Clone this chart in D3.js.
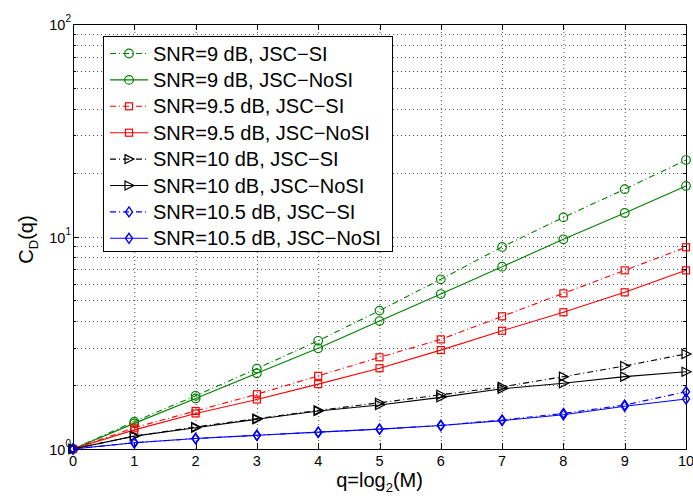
<!DOCTYPE html>
<html><head><meta charset="utf-8">
<script src="https://cdn.jsdelivr.net/npm/d3@7"></script>
<style>body{margin:0;background:#fff}svg{display:block}text{font-family:"Liberation Sans",Arial,sans-serif}</style>
</head><body><svg id="c" width="693" height="496"></svg>
<script>
const q = [0,1,2,3,4,5,6,7,8,9,10];
const g_SI   = [1,1.345,1.78,2.39,3.23,4.48,6.29,8.93,12.3,16.7,22.9];
const g_NoSI = [1,1.32,1.73,2.27,2.98,4.0,5.36,7.21,9.7,12.9,17.3];
const r_SI   = [1,1.26,1.51,1.81,2.21,2.70,3.28,4.21,5.40,6.93,8.9];
const r_NoSI = [1,1.23,1.47,1.71,2.02,2.40,2.92,3.60,4.40,5.46,6.93];
const k_SI   = [1,1.15,1.27,1.39,1.52,1.65,1.80,1.96,2.19,2.46,2.80];
const k_NoSI = [1,1.15,1.26,1.38,1.51,1.61,1.75,1.92,2.04,2.19,2.31];
const b_SI   = [1,1.07,1.12,1.16,1.20,1.24,1.29,1.37,1.47,1.61,1.86];
const b_NoSI = [1,1.07,1.12,1.16,1.20,1.24,1.29,1.36,1.45,1.59,1.72];
const labels = ["SNR=9 dB, JSC\u2212SI","SNR=9 dB, JSC\u2212NoSI","SNR=9.5 dB, JSC\u2212SI","SNR=9.5 dB, JSC\u2212NoSI",
  "SNR=10 dB, JSC\u2212SI","SNR=10 dB, JSC\u2212NoSI","SNR=10.5 dB, JSC\u2212SI","SNR=10.5 dB, JSC\u2212NoSI"];
const xTicks = [0,1,2,3,4,5,6,7,8,9,10];
const yMajor = [1,10,100];

const series = [
  {v:g_SI,c:"#008000",dash:"6,3,1,3",m:"circle"},
  {v:g_NoSI,c:"#008000",dash:null,m:"circle"},
  {v:r_SI,c:"#ff0000",dash:"6,3,1,3",m:"square"},
  {v:r_NoSI,c:"#ff0000",dash:null,m:"square"},
  {v:k_SI,c:"#000000",dash:"6,3,1,3",m:"tri"},
  {v:k_NoSI,c:"#000000",dash:null,m:"tri"},
  {v:b_SI,c:"#0000ff",dash:"6,3,1,3",m:"diamond"},
  {v:b_NoSI,c:"#0000ff",dash:null,m:"diamond"}
];
series.forEach((s,i)=>s.label=labels[i]);

const W=693,H=496,L=73,R=686,T=24,B=449;
const svg=d3.select("#c");
const x=d3.scaleLinear().domain([0,10]).range([L,R]);
const y=d3.scaleLog().domain([1,100]).range([B,T]);

const minors=[];
[1,10].forEach(d=>{for(let k=2;k<=9;k++)minors.push(d*k);});

// grid
const grid=svg.append("g").attr("stroke","#555").attr("stroke-width",1).attr("stroke-dasharray","1,3");
xTicks.slice(1,-1).forEach(t=>grid.append("line").attr("x1",x(t)+0.5).attr("x2",x(t)+0.5).attr("y1",T).attr("y2",B));
minors.concat([10]).forEach(t=>grid.append("line").attr("x1",L).attr("x2",R).attr("y1",Math.round(y(t))+0.5).attr("y2",Math.round(y(t))+0.5));

// frame + ticks
const ax=svg.append("g").attr("stroke","#000").attr("stroke-width",1);
ax.append("rect").attr("x",L+0.5).attr("y",T+0.5).attr("width",R-L).attr("height",B-T).attr("fill","none");
xTicks.forEach(t=>{const px=Math.round(x(t))+0.5;
  ax.append("line").attr("x1",px).attr("x2",px).attr("y1",B).attr("y2",B-6);
  ax.append("line").attr("x1",px).attr("x2",px).attr("y1",T).attr("y2",T+6);});
yMajor.forEach(t=>{const py=Math.round(y(t))+0.5;
  ax.append("line").attr("x1",L).attr("x2",L+6).attr("y1",py).attr("y2",py);
  ax.append("line").attr("x1",R).attr("x2",R-6).attr("y1",py).attr("y2",py);});
minors.forEach(t=>{const py=Math.round(y(t))+0.5;
  ax.append("line").attr("x1",L).attr("x2",L+3).attr("y1",py).attr("y2",py);
  ax.append("line").attr("x1",R).attr("x2",R-3).attr("y1",py).attr("y2",py);});

// tick labels
xTicks.forEach(t=>svg.append("text").attr("x",x(t)).attr("y",466).attr("text-anchor","middle").attr("font-size",14.5).text(t));
yMajor.forEach(t=>{const e=Math.round(Math.log10(t));
  const tx=svg.append("text").attr("x",71).attr("y",y(t)+6).attr("text-anchor","end").attr("font-size",14.5);
  tx.append("tspan").text("10");
  tx.append("tspan").attr("font-size",10).attr("dy",-8).text(e);});

// axis labels
const xl=svg.append("text").attr("x",(L+R)/2).attr("y",487).attr("text-anchor","middle").attr("font-size",20);
xl.append("tspan").text("q=log");
xl.append("tspan").attr("font-size",13).attr("dy",5).text("2");
xl.append("tspan").attr("dy",-5).text("(M)");
const yl=svg.append("text").attr("transform",`translate(33,${(T+B)/2+3}) rotate(-90)`).attr("text-anchor","middle").attr("font-size",20);
yl.append("tspan").text("C");
yl.append("tspan").attr("font-size",13).attr("dy",5).text("D");
yl.append("tspan").attr("dy",-5).text("(q)");

function marker(g,type,cx,cy,c){
  if(type==="circle") g.append("circle").attr("cx",cx).attr("cy",cy).attr("r",4.3).attr("fill","none").attr("stroke",c).attr("stroke-width",1.2);
  else if(type==="square") g.append("rect").attr("x",cx-3.5).attr("y",cy-3.5).attr("width",7).attr("height",7).attr("fill","none").attr("stroke",c).attr("stroke-width",1.2);
  else if(type==="tri") g.append("path").attr("d",`M${cx-4},${cy-4.5}L${cx+5},${cy}L${cx-4},${cy+4.5}Z`).attr("fill","none").attr("stroke",c).attr("stroke-width",1.2);
  else g.append("path").attr("d",`M${cx},${cy-5}L${cx+3.5},${cy}L${cx},${cy+5}L${cx-3.5},${cy}Z`).attr("fill","none").attr("stroke",c).attr("stroke-width",1.4);
}

const line=d3.line().x((d,i)=>x(q[i])).y(d=>y(d));
const plot=svg.append("g");
series.forEach(s=>{
  const g=plot.append("g");
  g.append("path").attr("d",line(s.v)).attr("fill","none").attr("stroke",s.c).attr("stroke-width",1.1)
    .attr("stroke-dasharray",s.dash);
  s.v.forEach((v,i)=>marker(g,s.m,x(q[i]),y(v),s.c));
});

// legend
const lg=svg.append("g");
lg.append("rect").attr("x",103.5).attr("y",36.5).attr("width",289).attr("height",215).attr("fill","#fff").attr("stroke","#000").attr("stroke-width",1);
series.forEach((s,i)=>{
  const cy=53.5+i*26.4;
  lg.append("line").attr("x1",110).attr("x2",148).attr("y1",cy).attr("y2",cy).attr("stroke",s.c).attr("stroke-width",1.1).attr("stroke-dasharray",s.dash);
  marker(lg,s.m,129,cy,s.c);
  lg.append("text").attr("x",153).attr("y",cy+7).attr("font-size",20).text(s.label);
});
</script></body></html>
